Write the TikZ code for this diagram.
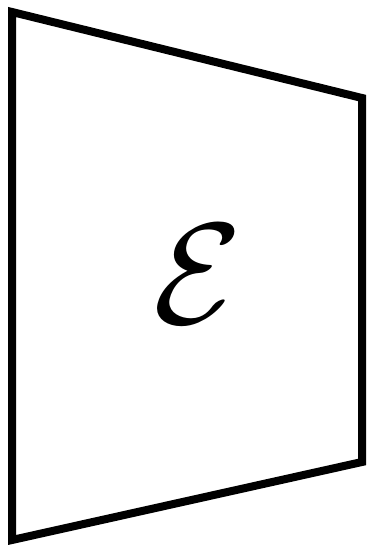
\documentclass[tikz,border=0pt]{standalone}
\usepackage{amsmath,amssymb}
\usetikzlibrary{positioning}

\begin{document}
\begin{tikzpicture}[x=1pt, y=1pt, edge/.style={draw, line width=8pt, line join=miter}, label/.style={inner sep=0pt}]
  \useasboundingbox (0,0) rectangle (369,552);
  % corners of the encoder block
  \coordinate (TL) at (12,540);
  \coordinate (TR) at (362,454);
  \coordinate (BR) at (362,90);
  \coordinate (BL) at (12,12);
  \draw[edge] (TL) -- (TR) -- (BR) -- (BL) -- cycle;
  \node[label] (E) at (198,278) {\scalebox{14.4}{$\mathcal{E}$}};
\end{tikzpicture}
\end{document}
